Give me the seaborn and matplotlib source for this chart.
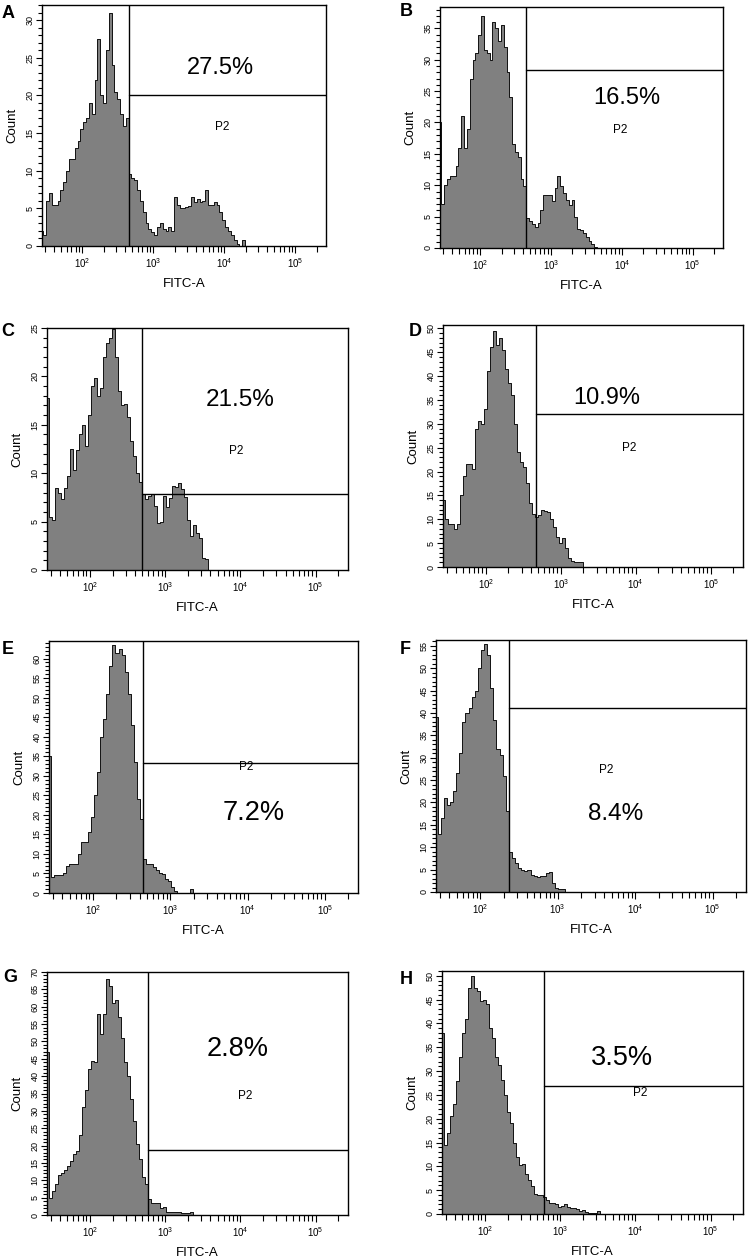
import numpy as np
import seaborn as sns
import matplotlib.pyplot as plt
from matplotlib.ticker import LogLocator, MultipleLocator, NullFormatter

# 스타일
sns.set_style("ticks")
plt.rcParams['font.family'] = ['Liberation Sans', 'DejaVu Sans']
plt.rcParams['text.color'] = 'black'
plt.rcParams['axes.labelcolor'] = 'black'
plt.rcParams['xtick.color'] = 'black'
plt.rcParams['ytick.color'] = 'black'

# histogram bins in log10(FITC-A): first bin starts at 10^1.41, 0.04 decade wide
bin_start = 1.41
bin_width = 0.04

counts_A = [2, 1.5, 6, 7, 5.5, 5.5, 6, 7.5, 8.5, 10,
            11.5, 11.5, 13, 14, 15.5, 16.5, 17, 19, 17.5, 22,
            27.5, 20, 19, 26, 31, 24, 20.5, 19.5, 17.5, 16,
            17, 9.5, 9, 8.8, 7.5, 6, 4.5, 3, 2.2, 1.8,
            1.5, 2.5, 3, 2.2, 2, 2.5, 2, 6.5, 5.5, 5,
            5, 5.2, 5.3, 6.5, 5.8, 6.3, 5.8, 6, 7.5, 5.5,
            5.5, 5.8, 5.5, 4.5, 3.5, 2.5, 2, 1.5, 0.8, 0.3,
            0, 0.8, 0]
counts_B = [20, 7, 10, 11, 11.5, 11.5, 13, 16, 21, 16,
            19, 27, 30, 31, 34, 37, 31.5, 31, 30, 36,
            35, 33, 35.5, 32, 28, 24, 16.5, 15.3, 14.5, 11,
            9.8, 4.8, 4.3, 3.8, 3.3, 4, 6, 8.5, 8.5, 8.5,
            7.5, 9.5, 11.5, 9.8, 8.7, 7.7, 6.8, 7.7, 5, 3,
            2.8, 2.4, 1.8, 1.1, 0.6, 0.2, 0]
counts_C = [17.8, 5.5, 5.2, 8.5, 8, 7.3, 8.5, 9.7, 12.5, 10.3,
            12.4, 14, 15, 12.8, 16, 19, 19.8, 18, 18.8, 22,
            23.5, 24, 24.9, 22, 18.5, 17, 17.2, 15.8, 13.3, 11.8,
            10, 9.1, 7.8, 7.3, 7.6, 7.8, 6.6, 4.9, 5, 7.6,
            6.5, 7.4, 8.7, 8.6, 9, 8.4, 7.5, 5.2, 3.5, 4.7,
            3.8, 3.3, 1.2, 1.1, 0]
counts_D = [14, 10, 9, 9, 8, 9, 15, 19, 21.5, 21.5,
            20.5, 29, 30.5, 30, 33, 41, 46, 49.5, 46.5, 48,
            45.5, 41.5, 38.5, 36, 30, 24, 22, 21, 17.5, 13.5,
            11.2, 10.5, 10.8, 12, 11.8, 11.5, 10, 8.4, 6.3, 5,
            6, 4, 1.8, 1.3, 1, 1, 1, 0]
counts_E = [35, 4, 4.5, 4.5, 4.5, 5, 6.8, 7.5, 7.5, 7.5,
            10, 13, 13, 15.5, 19.5, 25, 31, 40, 44.5, 51,
            58, 63.5, 61.5, 62.5, 61, 56.5, 51, 43, 33.5, 24,
            19, 8.8, 7.4, 7.5, 6.6, 6, 5, 4.8, 3.6, 3,
            1.5, 0.6, 0, 0, 0, 0, 1, 0]
counts_F = [39, 13, 16.5, 21, 19.5, 20.2, 22.5, 26.5, 31, 38,
            40, 41, 43.5, 45, 50, 54, 55.5, 53, 45.5, 38.5,
            32, 30.5, 26, 18, 9, 7.5, 6.5, 5.3, 4.9, 4.8,
            4.9, 3.8, 3.5, 3.4, 3.5, 3.6, 4.2, 4.5, 2, 0.8,
            0.6, 0.6, 0]
counts_G = [47, 5, 7, 9, 11.5, 12, 13, 14, 15.5, 17.5,
            18.5, 23, 31, 36, 42, 44.5, 44, 58, 52, 58,
            68, 66, 61, 62, 57, 51, 44, 40, 33.5, 27,
            20.5, 16, 11, 9, 4.5, 3.6, 3.6, 3.5, 2.1, 2.2,
            1, 1, 1, 0.8, 1, 0.5, 0.5, 0.5, 1, 0]
counts_H = [38, 14.5, 17, 20.5, 23, 28, 33, 38, 41, 47.5,
            50, 47.5, 46.7, 44.7, 45, 44, 39, 37, 33, 31.3,
            28.2, 25, 21.5, 19, 15, 12, 10.3, 10.5, 8.3, 7.2,
            5.8, 4.3, 4, 4, 3.5, 2.9, 2.3, 2.3, 2, 1.5,
            1.7, 2, 1.5, 1.3, 1.2, 1, 0.7, 0.8, 0.4, 0.2,
            0.3, 0.3, 0.7, 0]

panel_letters = ["A", "B", "C", "D", "E", "F", "G", "H"]
pct_labels = ["27.5%", "16.5%", "21.5%", "10.9%", "7.2%", "8.4%", "2.8%", "3.5%"]
gate_log = [2.65, 2.65, 2.69, 2.67, 2.65, 2.37, 2.77, 2.79]   # log10 FITC-A of P2 gate
gate_cnt = [20, 28.3, 7.9, 32, 33.4, 41.2, 18.7, 26.8]        # gate marker height
y_top = [32, 38.4, 25, 50.7, 64.5, 56.3, 70, 51]
all_counts = [counts_A, counts_B, counts_C, counts_D, counts_E, counts_F, counts_G, counts_H]
x_range = (10 ** 1.43, 10 ** 5.43)

# layout (pixels: left, top, right, bottom) and text spots (axes fraction)
boxes = [(42, 5, 326, 246), (440, 7, 723, 248),
         (47, 328, 348, 570), (443, 325, 743, 567),
         (49, 641, 358, 893), (436, 640, 746, 892),
         (47, 972, 348, 1215), (442, 971, 743, 1214)]
letter_xy = [(8, 13), (406, 11), (8, 331), (415, 331),
             (8, 650), (405, 650), (10, 977), (406, 980)]
pct_xy = [(0.627, 0.737), (0.659, 0.621), (0.643, 0.703), (0.547, 0.70),
          (0.663, 0.319), (0.578, 0.309), (0.632, 0.685), (0.598, 0.641)]
pct_size = [17, 17, 17.5, 17, 19.5, 17.5, 19.5, 19.5]
p2_xy = [(0.635, 0.494), (0.635, 0.49), (0.627, 0.49), (0.619, 0.49),
         (0.639, 0.499), (0.55, 0.483), (0.66, 0.49), (0.66, 0.497)]

W, H = 750, 1258
fig = plt.figure(figsize=(W / 100, H / 100), dpi=100)

for i in range(8):
    l, t, r, b = boxes[i]
    ax = fig.add_axes([l / W, 1 - b / H, (r - l) / W, (b - t) / H])
    c = np.array(all_counts[i], dtype=float)
    centers = bin_start + bin_width * (np.arange(len(c)) + 0.5)
    sns.histplot(x=10 ** centers, weights=c, binwidth=bin_width,
                 binrange=(bin_start, bin_start + bin_width * len(c)),
                 log_scale=True, element="step", fill=True,
                 color="#808080", edgecolor="#111111", linewidth=0.7, alpha=1,
                 ax=ax)
    ax.set_xlim(x_range)
    ax.set_ylim(0, y_top[i])

    # P2 gate
    gx = 10 ** gate_log[i]
    ax.plot([gx, gx], [0, y_top[i]], color="black", lw=1)
    ax.plot([gx, x_range[1]], [gate_cnt[i], gate_cnt[i]], color="black", lw=1)

    ax.text(*pct_xy[i], pct_labels[i], transform=ax.transAxes, ha="center", va="center",
            fontsize=pct_size[i], color="black")
    ax.text(*p2_xy[i], "P2", transform=ax.transAxes, ha="center", va="center",
            fontsize=8.5, color="black")

    # axes
    ax.xaxis.set_major_locator(LogLocator(base=10))
    ax.xaxis.set_minor_locator(LogLocator(base=10, subs=np.arange(2, 10)))
    ax.xaxis.set_minor_formatter(NullFormatter())
    ax.yaxis.set_major_locator(MultipleLocator(5))
    ax.yaxis.set_minor_locator(MultipleLocator(1))
    ax.tick_params(axis="x", which="major", direction="out", length=5, width=0.8,
                   labelsize=7, pad=2, colors="black")
    ax.tick_params(axis="x", which="minor", direction="out", length=4, width=0.8, colors="black")
    ax.tick_params(axis="y", which="major", direction="out", length=4, width=0.8,
                   labelsize=6.5, labelrotation=90, pad=1.5, colors="black")
    ax.tick_params(axis="y", which="minor", direction="out", length=3, width=0.8, colors="black")
    for lab in ax.get_yticklabels():
        lab.set_va("center")
    for sp in ax.spines.values():
        sp.set_linewidth(1)
        sp.set_color("black")
    ax.set_xlabel("FITC-A", fontsize=9.5, labelpad=6, color="black")
    ax.set_ylabel("Count", fontsize=9.5, labelpad=5, color="black")

    fig.text(letter_xy[i][0] / W, 1 - letter_xy[i][1] / H, panel_letters[i],
             fontsize=13, fontweight="bold", ha="center", va="center", color="black")

fig.savefig("out.png", dpi=100)
